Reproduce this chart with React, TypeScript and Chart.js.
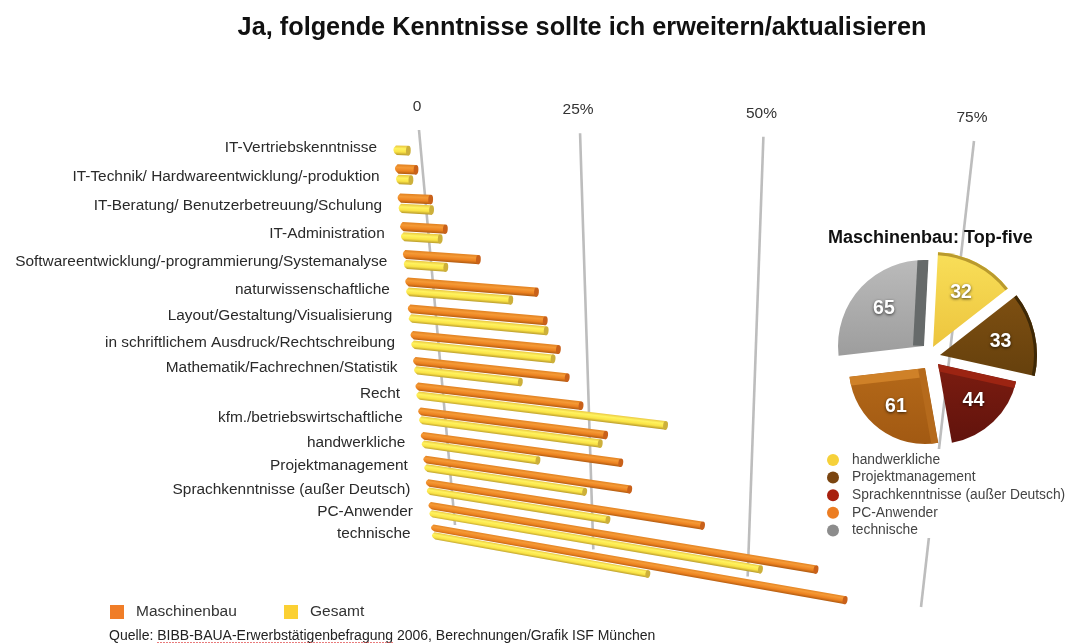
import React, { useEffect, useRef } from "react";
import { Chart, registerables } from "chart.js";

Chart.register(...registerables);

const categories = [
  "IT-Vertriebskenntnisse",
  "IT-Technik/ Hardwareentwicklung/-produktion",
  "IT-Beratung/ Benutzerbetreuung/Schulung",
  "IT-Administration",
  "Softwareentwicklung/-programmierung/Systemanalyse",
  "naturwissenschaftliche",
  "Layout/Gestaltung/Visualisierung",
  "in schriftlichem Ausdruck/Rechtschreibung",
  "Mathematik/Fachrechnen/Statistik",
  "Recht",
  "kfm./betriebswirtschaftliche",
  "handwerkliche",
  "Projektmanagement",
  "Sprachkenntnisse (außer Deutsch)",
  "PC-Anwender",
  "technische",
];
const maschinenbau = [null, 3, 5, 7, 12, 21, 22, 23.7, 24.7, 26.5, 30, 32, 33, 44, 61, 65];
const gesamt = [2, 2, 5, 6, 6.5, 16.7, 22, 22.7, 17, 39.7, 29, 18.6, 25.7, 29, 52.4, 34.5];
const tickValues = [0, 25, 50, 75];
const tickLabels = ["0", "25%", "50%", "75%"];
const pieLabels = ["handwerkliche", "Projektmanagement", "Sprachkenntnisse (außer Deutsch)", "PC-Anwender", "technische"];
const pieValues = [32, 33, 44, 61, 65];
const pieLegendColors = ["#f6d13a", "#7a4510", "#a8200f", "#ec7d22", "#8c8c8c"];
const titleText = "Ja, folgende Kenntnisse sollte ich erweitern/aktualisieren";
const pieTitle = "Maschinenbau: Top-five";
const sourceLead = "Quelle: ";
const sourceWord = "BIBB-BAUA-Erwerbstätigenbefragung";
const sourceRest = " 2006, Berechnungen/Grafik ISF München";

const FONT = '"Liberation Sans", Arial, sans-serif';

// Perspective of the floor the bars lie on
const rowY = (r: number) => 139.5 + 29.8 * r - 0.26 * r * r;
const barLen = (v: number) => 6 * v + 0.005 * v * v;
const project = (v: number, R: number) => {
  const r = R + 0.18;
  const L = barLen(v);
  return { x: 395.4 + 2.57 * r + L, y: rowY(r) + (0.03 + 0.0097 * r) * L };
};

// Perspective of the back wall that holds the gridlines
const wall = [
  [419, 130],
  [974, 141],
  [921, 607],
  [455, 525],
];
function homography(q: number[][]) {
  const [[x0, y0], [x1, y1], [x2, y2], [x3, y3]] = q;
  const dx1 = x1 - x2, dx2 = x3 - x2, sx = x0 - x1 + x2 - x3;
  const dy1 = y1 - y2, dy2 = y3 - y2, sy = y0 - y1 + y2 - y3;
  const den = dx1 * dy2 - dx2 * dy1;
  const g = (sx * dy2 - dx2 * sy) / den;
  const h = (dx1 * sy - sx * dy1) / den;
  return (u: number, v: number) => {
    const w = g * u + h * v + 1;
    return {
      x: ((x1 - x0 + g * x1) * u + (x3 - x0 + h * x3) * v + x0) / w,
      y: ((y1 - y0 + g * y1) * u + (y3 - y0 + h * y3) * v + y0) / w,
    };
  };
}
const wallAt = homography(wall);

const barsPlugin = {
  id: "tiltedBars",
  beforeDatasetsDraw(chart: any) {
    const ctx = chart.ctx;
    const xs = chart.scales.x;
    ctx.save();
    ctx.fillStyle = "#111";
    ctx.font = `bold 25.3px ${FONT}`;
    ctx.textAlign = "center";
    ctx.textBaseline = "middle";
    ctx.fillText(titleText, 582, 28.5);
    tickValues.forEach((t, i) => {
      const u = (xs.getPixelForValue(t) - xs.left) / (xs.right - xs.left);
      const a = wallAt(u, 0);
      const b = wallAt(u, 1);
      ctx.strokeStyle = "#bdbdbd";
      ctx.lineWidth = 2.6;
      ctx.beginPath();
      ctx.moveTo(a.x, a.y);
      ctx.lineTo(b.x, b.y);
      ctx.stroke();
      ctx.fillStyle = "#333";
      ctx.font = `15.5px ${FONT}`;
      ctx.fillText(tickLabels[i], a.x - 2, a.y - 23);
    });
    ctx.textAlign = "right";
    ctx.fillStyle = "#2a2a2a";
    ctx.font = `15.4px ${FONT}`;
    chart.data.labels.forEach((lab: string, i: number) => {
      ctx.fillText(lab, 377 + 2.57 * i - (i === 15 ? 5 : 0), rowY(i) + 8 - 0.13 * i);
    });
    ctx.textAlign = "left";
    chart.data.datasets.forEach((ds: any, i: number) => {
      const x = i === 0 ? 110 : 284;
      ctx.fillStyle = ds.legendColor;
      ctx.fillRect(x, 605, 14, 14);
      ctx.fillStyle = "#333";
      ctx.font = `15.5px ${FONT}`;
      ctx.fillText(ds.label, x + 26, 612);
    });
    ctx.font = `14px ${FONT}`;
    ctx.fillStyle = "#222";
    ctx.fillText(sourceLead, 109, 636);
    const sx = 109 + ctx.measureText(sourceLead).width;
    ctx.fillText(sourceWord, sx, 636);
    const ww = ctx.measureText(sourceWord).width;
    ctx.fillText(sourceRest, sx + ww, 636);
    ctx.strokeStyle = "#e25050";
    ctx.lineWidth = 1;
    ctx.setLineDash([1.5, 1.5]);
    ctx.beginPath();
    ctx.moveTo(sx, 642.5);
    ctx.lineTo(sx + ww, 642.5);
    ctx.stroke();
    ctx.restore();
  },
  beforeDatasetDraw(chart: any, args: any) {
    const ctx = chart.ctx;
    const xs = chart.scales.x;
    const area = chart.chartArea;
    const rowPx = area.height / categories.length;
    const meta = chart.getDatasetMeta(args.index);
    const ds = chart.data.datasets[args.index];
    meta.data.forEach((el: any, i: number) => {
      if (ds.data[i] == null) return;
      const { x, y, height } = el.getProps(["x", "y", "height"], true);
      const v = xs.getValueForPixel(x);
      const R = (y - area.top) / rowPx - 0.5;
      const d = height / 2 / rowPx;
      const A = project(0, R - d), B = project(v, R - d), C = project(v, R + d), D = project(0, R + d);
      const M = project(v / 2, R);
      const ang = Math.atan2(B.y - A.y, B.x - A.x);
      const half = Math.hypot(C.x - B.x, C.y - B.y) / 2;
      const nx = -Math.sin(ang) * half, ny = Math.cos(ang) * half;
      const g = ctx.createLinearGradient(M.x - nx, M.y - ny, M.x + nx, M.y + ny);
      ds.gradientStops.forEach((c: string, k: number) => g.addColorStop(k / (ds.gradientStops.length - 1), c));
      ctx.save();
      ctx.fillStyle = g;
      ctx.beginPath();
      ctx.moveTo(A.x, A.y);
      ctx.lineTo(B.x, B.y);
      ctx.lineTo(C.x, C.y);
      ctx.lineTo(D.x, D.y);
      ctx.quadraticCurveTo((A.x + D.x) / 2 - 6, (A.y + D.y) / 2, A.x, A.y);
      ctx.closePath();
      ctx.fill();
      ctx.fillStyle = ds.capColor;
      ctx.beginPath();
      ctx.ellipse((B.x + C.x) / 2, (B.y + C.y) / 2, 2.4, half, ang, 0, Math.PI * 2);
      ctx.fill();
      ctx.restore();
    });
    return false;
  },
};

// Each exploded slice's own tip and radius, in this canvas' coordinates
const sliceTips = [
  [113, 122],
  [120, 130],
  [118, 139],
  [105, 143],
  [104, 121],
];
const sliceRadii = [95, 97, 80, 76, 86];

const piePlugin = {
  id: "pieFaces",
  beforeDatasetsDraw(chart: any) {
    chart.getDatasetMeta(0).data.forEach((a: any, i: number) => {
      a.x = sliceTips[i][0];
      a.y = sliceTips[i][1];
      a.outerRadius = sliceRadii[i];
    });
  },
  afterDatasetsDraw(chart: any) {
    const ctx = chart.ctx;
    const arcs = chart.getDatasetMeta(0).data;
    const ofs = (a: any) => {
      const p = a.getProps(["x", "y", "startAngle", "endAngle", "outerRadius"], true);
      return { ...p, mid: (p.startAngle + p.endAngle) / 2, cx: p.x, cy: p.y };
    };
    const clipArc = (p: any) => {
      ctx.beginPath();
      ctx.moveTo(p.cx, p.cy);
      ctx.arc(p.cx, p.cy, p.outerRadius, p.startAngle, p.endAngle);
      ctx.closePath();
      ctx.clip();
    };
    const edgeStrip = (i: number, edge: "start" | "end", w: number, color: string) => {
      const p = ofs(arcs[i]);
      ctx.save();
      clipArc(p);
      const ang = edge === "start" ? p.startAngle : p.endAngle;
      const dir = edge === "start" ? 1 : -1;
      const nx = Math.cos(ang + (dir * Math.PI) / 2) * w;
      const ny = Math.sin(ang + (dir * Math.PI) / 2) * w;
      const ex = Math.cos(ang) * p.outerRadius * 1.1;
      const ey = Math.sin(ang) * p.outerRadius * 1.1;
      ctx.fillStyle = color;
      ctx.beginPath();
      ctx.moveTo(p.cx, p.cy);
      ctx.lineTo(p.cx + ex, p.cy + ey);
      ctx.lineTo(p.cx + ex + nx, p.cy + ey + ny);
      ctx.lineTo(p.cx + nx, p.cy + ny);
      ctx.closePath();
      ctx.fill();
      ctx.restore();
    };
    const rim = (i: number, w: number, color: string) => {
      const p = ofs(arcs[i]);
      ctx.save();
      clipArc(p);
      ctx.strokeStyle = color;
      ctx.lineWidth = w * 2;
      ctx.beginPath();
      ctx.arc(p.cx, p.cy, p.outerRadius, p.startAngle, p.endAngle);
      ctx.stroke();
      ctx.restore();
    };
    rim(0, 3, "#b99a2e");
    rim(1, 3, "#3e2806");
    edgeStrip(2, "start", 7, "#9c2412");
    edgeStrip(3, "end", 9, "#cf8128");
    edgeStrip(3, "start", 7, "#b56a1c");
    edgeStrip(4, "end", 11, "#666a6a");
    ctx.save();
    ctx.font = `bold 19.5px ${FONT}`;
    ctx.textAlign = "center";
    ctx.textBaseline = "middle";
    ctx.fillStyle = "#fff";
    ctx.shadowColor = "rgba(0,0,0,0.7)";
    ctx.shadowBlur = 3;
    ctx.shadowOffsetY = 1;
    arcs.forEach((a: any, i: number) => {
      const p = ofs(a);
      ctx.fillText(String(pieValues[i]), p.cx + Math.cos(p.mid) * p.outerRadius * 0.64, p.cy + Math.sin(p.mid) * p.outerRadius * 0.64);
    });
    ctx.restore();
    ctx.save();
    ctx.fillStyle = "#fff";
    ctx.fillRect(0, 224, 246, 89);
    ctx.fillStyle = "#111";
    ctx.font = `bold 18px ${FONT}`;
    ctx.textBaseline = "middle";
    ctx.fillText(pieTitle, 8, 13);
    ctx.font = `13.8px ${FONT}`;
    pieLabels.forEach((lab, i) => {
      const y = 235 + i * 17.6;
      ctx.fillStyle = pieLegendColors[i];
      ctx.beginPath();
      ctx.arc(13, y, 6, 0, Math.PI * 2);
      ctx.fill();
      ctx.fillStyle = "#444";
      ctx.fillText(lab, 32, y);
    });
    ctx.restore();
  },
};

export default function App() {
  const barRef = useRef<HTMLCanvasElement>(null);
  const pieRef = useRef<HTMLCanvasElement>(null);
  useEffect(() => {
    const bar = new Chart(barRef.current!, {
      type: "bar",
      data: {
        labels: categories,
        datasets: [
          {
            label: "Maschinenbau",
            data: maschinenbau,
            backgroundColor: "#ec7d22",
            legendColor: "#f07d28",
            capColor: "#c9611a",
            gradientStops: ["#e0801f", "#f59a36", "#ec8220", "#b05a10"],
            categoryPercentage: 0.72,
            barPercentage: 0.9,
          } as any,
          {
            label: "Gesamt",
            data: gesamt,
            backgroundColor: "#f6d13a",
            legendColor: "#fbd033",
            capColor: "#cdb03a",
            gradientStops: ["#e8c440", "#fff35f", "#fae346", "#b8992a"],
            categoryPercentage: 0.72,
            barPercentage: 0.9,
          } as any,
        ],
      },
      options: {
        indexAxis: "y",
        animation: false,
        responsive: false,
        layout: { padding: { left: 400, right: 90, top: 130, bottom: 40 } },
        plugins: { legend: { display: false }, tooltip: { enabled: false } },
        scales: {
          x: { min: 0, max: 75, display: false },
          y: { display: false },
        },
      },
      plugins: [barsPlugin],
    } as any);

    const pc = pieRef.current!;
    const c2 = pc.getContext("2d")!;
    const vGrad = (a: string, b: string) => {
      const g = c2.createLinearGradient(0, 30, 0, 225);
      g.addColorStop(0, a);
      g.addColorStop(1, b);
      return g;
    };
    const pie = new Chart(pc, {
      type: "pie",
      data: {
        labels: pieLabels,
        datasets: [
          {
            data: pieValues,
            backgroundColor: [
              vGrad("#f8de58", "#e0a820"),
              vGrad("#8a5714", "#4f3208"),
              vGrad("#a02a16", "#5f120c"),
              vGrad("#d08022", "#a05812"),
              vGrad("#bcbcbc", "#808080"),
            ],
            borderWidth: 0,
            radius: 90,
          },
        ],
      },
      options: {
        animation: false,
        responsive: false,
        rotation: 3,
        layout: { padding: { right: 24, bottom: 60 } },
        plugins: { legend: { display: false }, tooltip: { enabled: false } },
      },
      plugins: [piePlugin],
    } as any);
    return () => {
      bar.destroy();
      pie.destroy();
    };
  }, []);
  return (
    <div style={{ position: "fixed", left: 0, top: 0, width: 1066, height: 644, overflow: "hidden", background: "#fff" }}>
      <canvas ref={barRef} width={1066} height={644} style={{ position: "absolute", left: 0, top: 0, width: 1066, height: 644, filter: "blur(0.45px)" }} />
      <canvas ref={pieRef} width={246} height={320} style={{ position: "absolute", left: 820, top: 225, width: 246, height: 320, filter: "blur(0.45px)" }} />
    </div>
  );
}
